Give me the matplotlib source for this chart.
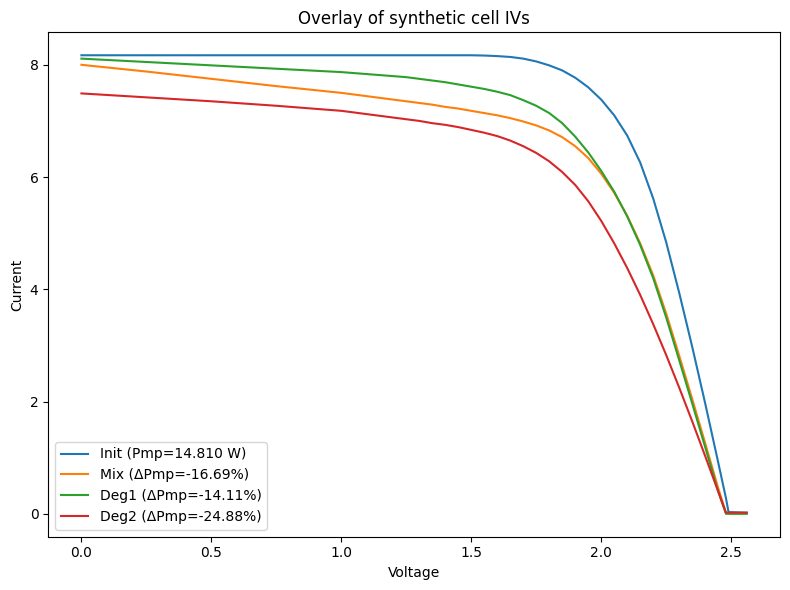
import numpy as np
import matplotlib
matplotlib.use("Agg")
import matplotlib.pyplot as plt
from matplotlib.ticker import MultipleLocator

# Voltage grid shared by all curves
voltage = [0.0, 0.25, 0.5, 0.75, 1.0, 1.25, 1.3, 1.35, 1.4, 1.45, 1.5, 1.55,
           1.6, 1.65, 1.7, 1.75, 1.8, 1.85, 1.9, 1.95, 2.0, 2.05, 2.1, 2.15,
           2.2, 2.25, 2.3, 2.35, 2.4, 2.45, 2.48, 2.49, 2.56]

# Currents for each curve
init_i = [8.17, 8.17, 8.17, 8.17, 8.17, 8.17, 8.17, 8.17, 8.17, 8.17, 8.17, 8.165,
          8.155, 8.14, 8.11, 8.06, 7.99, 7.90, 7.77, 7.60, 7.38, 7.10, 6.74, 6.26,
          5.62, 4.84, 3.94, 2.98, 1.97, 0.92, 0.28, 0.03, 0.02]
mix_i = [8.00, 7.88, 7.75, 7.62, 7.50, 7.35, 7.32, 7.29, 7.25, 7.22, 7.18, 7.14,
         7.10, 7.05, 6.99, 6.92, 6.83, 6.71, 6.55, 6.34, 6.06, 5.72, 5.31, 4.82,
         4.25, 3.57, 2.82, 2.05, 1.26, 0.46, 0.02, 0.01, 0.01]
deg1_i = [8.11, 8.05, 7.99, 7.93, 7.87, 7.78, 7.75, 7.72, 7.69, 7.65, 7.61, 7.57,
          7.52, 7.46, 7.37, 7.27, 7.14, 6.96, 6.72, 6.44, 6.11, 5.74, 5.30, 4.79,
          4.20, 3.50, 2.74, 1.97, 1.19, 0.40, 0.0, 0.0, 0.0]
deg2_i = [7.49, 7.42, 7.35, 7.27, 7.18, 7.03, 7.00, 6.96, 6.93, 6.89, 6.84, 6.79,
          6.73, 6.65, 6.55, 6.43, 6.28, 6.09, 5.86, 5.57, 5.22, 4.82, 4.38, 3.90,
          3.38, 2.83, 2.25, 1.65, 1.03, 0.40, 0.02, 0.02, 0.02]

labels = ["Init (Pmp=14.810 W)", "Mix (\u0394Pmp=-16.69%)",
          "Deg1 (\u0394Pmp=-14.11%)", "Deg2 (\u0394Pmp=-24.88%)"]

fig, ax = plt.subplots(figsize=(8, 6), dpi=100)

for curve, label in zip([init_i, mix_i, deg1_i, deg2_i], labels):
    ax.plot(voltage, curve, label=label)

ax.yaxis.set_major_locator(MultipleLocator(2))
ax.set_title("Overlay of synthetic cell IVs")
ax.set_xlabel("Voltage")
ax.set_ylabel("Current")
ax.legend(loc="lower left")

plt.tight_layout()
plt.savefig("out.png", bbox_inches="tight")
